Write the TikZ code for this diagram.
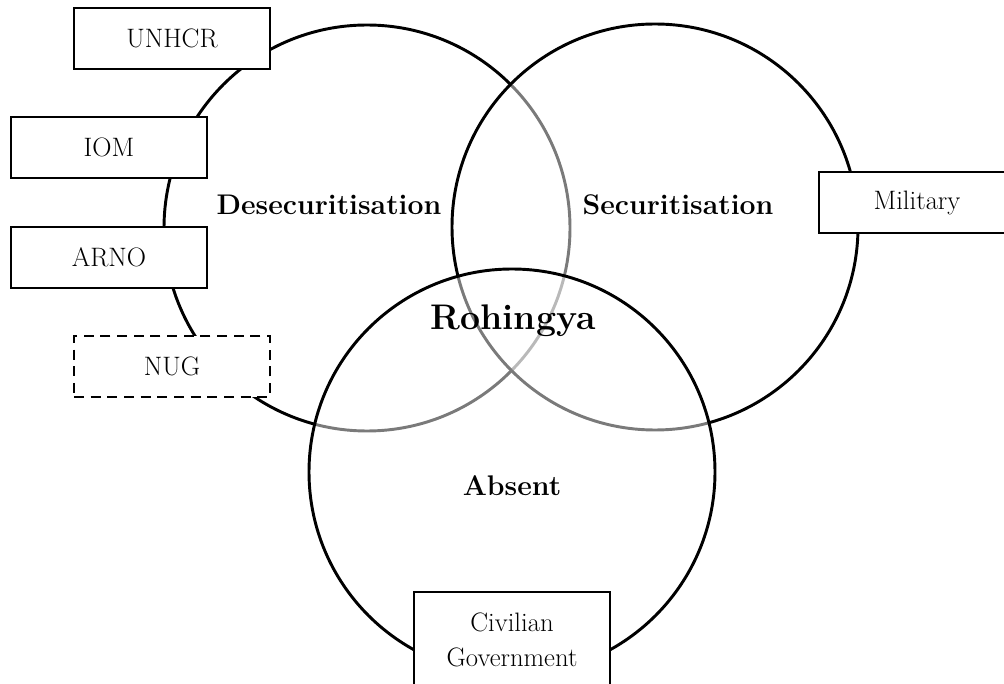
\documentclass[tikz,border=0pt]{standalone}
\usepackage{fontspec}
\begin{document}
\begin{tikzpicture}[x=0.75pt,y=-0.75pt,
  venn/.style={circle, draw=black, line width=2.2pt, fill=white, fill opacity=0.48, draw opacity=1, minimum size=304.5pt, inner sep=0pt},
  actor/.style={draw=black, line width=1.9pt, fill=white, minimum width=147pt, minimum height=45.75pt, inner sep=0pt, align=center, font=\fontsize{20}{26.25}\selectfont},
  maybe/.style={actor, dash pattern=on 7.5pt off 5pt},
  region/.style={font=\fontsize{21.3}{25}\selectfont\bfseries, inner sep=0pt},
  core/.style={font=\fontsize{26.7}{30}\selectfont\bfseries, inner sep=0pt}
]
\useasboundingbox (0,0) rectangle (1004,684);
\clip (0,0) rectangle (1004,684);
% circles
\node[venn] (desec) at (367,228) {};
\node[venn] (sec) at (655,227) {};
\node[venn] (absent) at (512,472) {};
% region labels
\node[region] (ldesec) at (329,205) {Desecuritisation};
\node[region] (lsec) at (678,205) {Securitisation};
\node[region] (labs) at (512,486) {Absent};
\node[core] (roh) at (513,321) {Rohingya};
% actors
\node[actor] (unhcr) at (172,38.5) {UNHCR};
\node[actor] (iom) at (109,147.5) {IOM};
\node[actor] (arno) at (109,257.5) {ARNO};
\node[maybe] (nug) at (172,366.5) {NUG};
\node[actor] (mil) at (917,202.5) {Military};
\node[actor, minimum height=72pt] (civ) at (512,640) {Civilian\\Government};
\end{tikzpicture}
\end{document}
